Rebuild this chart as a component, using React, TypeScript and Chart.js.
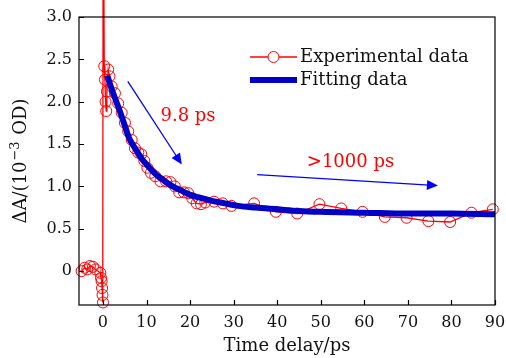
import React, { useEffect, useRef } from "react";
import { Chart, registerables } from "chart.js";

Chart.register(...registerables);

// ---- Data ----
const expTime = [
  -4.9, -4.2, -3.6, -3.0, -2.3, -1.7, -0.6, -0.45, -0.3, -0.2, -0.1, 0.0,
  0.05, 0.3, 0.45, 0.6, 0.75, 0.9, 1.2, 1.5, 2.0, 2.75, 3.5, 4.3, 5.05, 5.8,
  6.6, 7.35, 8.1, 8.8, 9.5, 10.2, 11.0, 12.0, 13.2, 14.5, 15.5, 16.5, 17.5,
  18.6, 19.6, 20.5, 21.5, 22.5, 23.5, 25.5, 27.5, 29.5, 34.7, 39.7, 44.6,
  49.7, 54.7, 59.6, 64.7, 69.7, 74.7, 79.7, 84.6, 89.5,
];
const expDeltaA = [
  0.0, 0.04, 0.02, 0.06, 0.05, 0.02, -0.02, -0.08, -0.12, -0.2, -0.28, -0.37,
  5.0, 2.42, 2.26, 2.0, 1.89, 2.12, 2.38, 2.3, 2.18, 2.1, 1.98, 1.87, 1.75,
  1.65, 1.55, 1.45, 1.4, 1.38, 1.3, 1.22, 1.16, 1.12, 1.06, 1.06, 1.05, 1.0,
  0.93, 0.93, 0.92, 0.86, 0.8, 0.79, 0.81, 0.82, 0.8, 0.77, 0.8, 0.7, 0.68,
  0.79, 0.74, 0.7, 0.64, 0.63, 0.59, 0.58, 0.69, 0.73,
];
const fitTime = [
  1, 2, 3, 4, 5, 6, 7, 8, 9, 10, 12, 14, 16, 18, 20, 22, 25, 28, 31, 35, 40,
  45, 50, 60, 70, 80, 90,
];
const fitDeltaA = [
  2.31, 2.15, 2.01, 1.87, 1.72, 1.57, 1.48, 1.4, 1.32, 1.26, 1.15, 1.07, 1.0,
  0.95, 0.9, 0.87, 0.83, 0.8, 0.77, 0.75, 0.73, 0.71, 0.7, 0.69, 0.68, 0.68,
  0.67,
];
const seriesNames = ["Experimental data", "Fitting data"];
const xTickValues = [0, 10, 20, 30, 40, 50, 60, 70, 80, 90];
const xTickLabels = ["0", "10", "20", "30", "40", "50", "60", "70", "80", "90"];
const yTickValues = [0, 0.5, 1.0, 1.5, 2.0, 2.5, 3.0];
const yTickLabels = ["0", "0.5", "1.0", "1.5", "2.0", "2.5", "3.0"];
const xTitle = "Time delay/ps";
const yTitleMain = "ΔA/(10";
const yTitleSup = "−3";
const yTitleEnd = " OD)";
const fastLabel = "9.8 ps";
const slowLabel = ">1000 ps";

// annotation anchors in data coordinates
const fastArrow = { x0: 5.7, y0: 2.24, x1: 18.1, y1: 1.26 };
const slowArrow = { x0: 35.4, y0: 1.14, x1: 76.9, y1: 1.01 };
const fastLabelAt = { x: 13.2, y: 1.83 };
const slowLabelAt = { x: 46.8, y: 1.29 };

// ---- Styles ----
const RED = "#ff0000";
const FIT_BLUE = "#0000c8";
const ARROW_BLUE = "#0000ff";
const SERIF = "'DejaVu Serif', serif";
const TEXT_SIZE = 18;
const TICK_SIZE = 16;

function drawArrow(ctx: CanvasRenderingContext2D, x0: number, y0: number, x1: number, y1: number) {
  const ang = Math.atan2(y1 - y0, x1 - x0);
  const head = 11;
  const half = 5;
  ctx.save();
  ctx.strokeStyle = ARROW_BLUE;
  ctx.fillStyle = ARROW_BLUE;
  ctx.lineWidth = 1.3;
  ctx.beginPath();
  ctx.moveTo(x0, y0);
  ctx.lineTo(x1 - Math.cos(ang) * head * 0.8, y1 - Math.sin(ang) * head * 0.8);
  ctx.stroke();
  ctx.beginPath();
  ctx.moveTo(x1, y1);
  ctx.lineTo(
    x1 - Math.cos(ang) * head - Math.sin(ang) * half,
    y1 - Math.sin(ang) * head + Math.cos(ang) * half
  );
  ctx.lineTo(
    x1 - Math.cos(ang) * head + Math.sin(ang) * half,
    y1 - Math.sin(ang) * head - Math.cos(ang) * half
  );
  ctx.closePath();
  ctx.fill();
  ctx.restore();
}

const decorPlugin = {
  id: "decor",
  afterDatasetsDraw(chart: any) {
    const { ctx, chartArea: a, scales } = chart;
    const xs = scales.x;
    const ys = scales.y;
    ctx.save();
    // frame
    ctx.strokeStyle = "#000";
    ctx.lineWidth = 1.2;
    ctx.strokeRect(a.left, a.top, a.right - a.left, a.bottom - a.top);
    // inward ticks
    ctx.beginPath();
    xTickValues.forEach((v) => {
      const px = Math.round(xs.getPixelForValue(v)) + 0.5;
      ctx.moveTo(px, a.bottom);
      ctx.lineTo(px, a.bottom - 5);
    });
    yTickValues.forEach((v) => {
      const py = Math.round(ys.getPixelForValue(v)) + 0.5;
      ctx.moveTo(a.left, py);
      ctx.lineTo(a.left + 5, py);
    });
    ctx.stroke();

    // arrows
    drawArrow(
      ctx,
      xs.getPixelForValue(fastArrow.x0),
      ys.getPixelForValue(fastArrow.y0),
      xs.getPixelForValue(fastArrow.x1),
      ys.getPixelForValue(fastArrow.y1)
    );
    drawArrow(
      ctx,
      xs.getPixelForValue(slowArrow.x0),
      ys.getPixelForValue(slowArrow.y0),
      xs.getPixelForValue(slowArrow.x1),
      ys.getPixelForValue(slowArrow.y1)
    );
    // annotation labels
    ctx.font = `${TEXT_SIZE}px ${SERIF}`;
    ctx.fillStyle = RED;
    ctx.textAlign = "left";
    ctx.textBaseline = "middle";
    ctx.fillText(fastLabel, xs.getPixelForValue(fastLabelAt.x), ys.getPixelForValue(fastLabelAt.y));
    ctx.fillText(slowLabel, xs.getPixelForValue(slowLabelAt.x), ys.getPixelForValue(slowLabelAt.y));

    // legend
    const lx0 = a.left + 171;
    const lx1 = a.left + 218;
    const ly0 = a.top + 40;
    const ly1 = a.top + 63;
    ctx.strokeStyle = RED;
    ctx.lineWidth = 1.4;
    ctx.beginPath();
    ctx.moveTo(lx0, ly0);
    ctx.lineTo(lx1, ly0);
    ctx.stroke();
    ctx.lineWidth = 1;
    ctx.beginPath();
    ctx.arc((lx0 + lx1) / 2, ly0, 5.5, 0, Math.PI * 2);
    ctx.fillStyle = "#fff";
    ctx.fill();
    ctx.stroke();
    ctx.strokeStyle = FIT_BLUE;
    ctx.lineWidth = 6;
    ctx.beginPath();
    ctx.moveTo(lx0, ly1);
    ctx.lineTo(lx1, ly1);
    ctx.stroke();
    ctx.fillStyle = "#111";
    ctx.textAlign = "left";
    ctx.textBaseline = "middle";
    ctx.fillText(seriesNames[0], lx1 + 3, ly0);
    ctx.fillText(seriesNames[1], lx1 + 3, ly1);

    // y axis title with superscript, rotated
    const mainFont = `${TEXT_SIZE}px ${SERIF}`;
    const supFont = `${Math.round(TEXT_SIZE * 0.72)}px ${SERIF}`;
    ctx.font = mainFont;
    const w1 = ctx.measureText(yTitleMain).width;
    const w3 = ctx.measureText(yTitleEnd).width;
    ctx.font = supFont;
    const w2 = ctx.measureText(yTitleSup).width + 2;
    const total = w1 + w2 + w3;
    ctx.translate(20, (a.top + a.bottom) / 2);
    ctx.rotate(-Math.PI / 2);
    ctx.fillStyle = "#111";
    ctx.textBaseline = "alphabetic";
    ctx.textAlign = "left";
    let cx = -total / 2;
    const base = 6;
    ctx.font = mainFont;
    ctx.fillText(yTitleMain, cx, base);
    cx += w1 + 1;
    ctx.font = supFont;
    ctx.fillText(yTitleSup, cx, base - 7);
    cx += w2 - 1;
    ctx.font = mainFont;
    ctx.fillText(yTitleEnd, cx, base);
    ctx.restore();
  },
};

export default function App() {
  const ref = useRef<HTMLCanvasElement | null>(null);
  useEffect(() => {
    if (!ref.current) return;
    const expPoints = expTime.map((t, i) => ({ x: t, y: expDeltaA[i] }));
    const fitPoints = fitTime.map((t, i) => ({ x: t, y: fitDeltaA[i] }));
    const chart = new Chart(ref.current, {
      type: "line",
      data: {
        datasets: [
          {
            label: seriesNames[1],
            data: fitPoints,
            borderColor: FIT_BLUE,
            backgroundColor: FIT_BLUE,
            borderWidth: 6,
            pointRadius: 0,
            cubicInterpolationMode: "monotone",
            order: 0,
          },
          {
            label: seriesNames[0],
            data: expPoints,
            borderColor: RED,
            backgroundColor: "rgba(0,0,0,0)",
            borderWidth: 1.3,
            pointRadius: 5.5,
            pointBorderWidth: 1,
            pointBorderColor: RED,
            pointBackgroundColor: "rgba(0,0,0,0)",
            tension: 0,
            clip: false as any,
            order: 1,
          },
        ],
      },
      options: {
        responsive: false,
        animation: false,
        events: [],
        layout: { padding: { top: 17, right: 11, left: 0, bottom: 0 } },
        plugins: { legend: { display: false }, tooltip: { enabled: false } },
        scales: {
          x: {
            type: "linear",
            min: -5.5,
            max: 90,
            afterBuildTicks: (s: any) => {
              s.ticks = xTickValues.map((v) => ({ value: v }));
            },
            afterFit: (s: any) => {
              s.height = 53;
              s.paddingLeft = 0;
              s.paddingRight = 0;
            },
            grid: { display: false, drawTicks: false },
            border: { display: false },
            ticks: {
              autoSkip: false,
              maxRotation: 0,
              padding: 8,
              color: "#111",
              font: { family: SERIF, size: TICK_SIZE },
              callback: (v: any) => {
                const i = xTickValues.indexOf(Number(v));
                return i >= 0 ? xTickLabels[i] : "";
              },
            },
            title: {
              display: true,
              text: xTitle,
              color: "#111",
              font: { family: SERIF, size: TEXT_SIZE },
              padding: { top: 0, bottom: 1 },
            },
          },
          y: {
            type: "linear",
            min: -0.4,
            max: 3.0,
            afterBuildTicks: (s: any) => {
              s.ticks = yTickValues.map((v) => ({ value: v }));
            },
            afterFit: (s: any) => {
              s.width = 79;
              s.paddingTop = 0;
              s.paddingBottom = 0;
            },
            grid: { display: false, drawTicks: false },
            border: { display: false },
            ticks: {
              autoSkip: false,
              padding: 7,
              color: "#111",
              font: { family: SERIF, size: TICK_SIZE },
              callback: (v: any) => {
                const i = yTickValues.findIndex((t) => Math.abs(t - Number(v)) < 1e-6);
                return i >= 0 ? yTickLabels[i] : "";
              },
            },
          },
        },
      },
      plugins: [decorPlugin],
    });
    return () => chart.destroy();
  }, []);

  return (
    <div style={{ position: "fixed", left: 0, top: 0, width: 506, height: 358, background: "#fff" }}>
      <canvas ref={ref} width={506} height={358} style={{ display: "block" }} />
    </div>
  );
}
